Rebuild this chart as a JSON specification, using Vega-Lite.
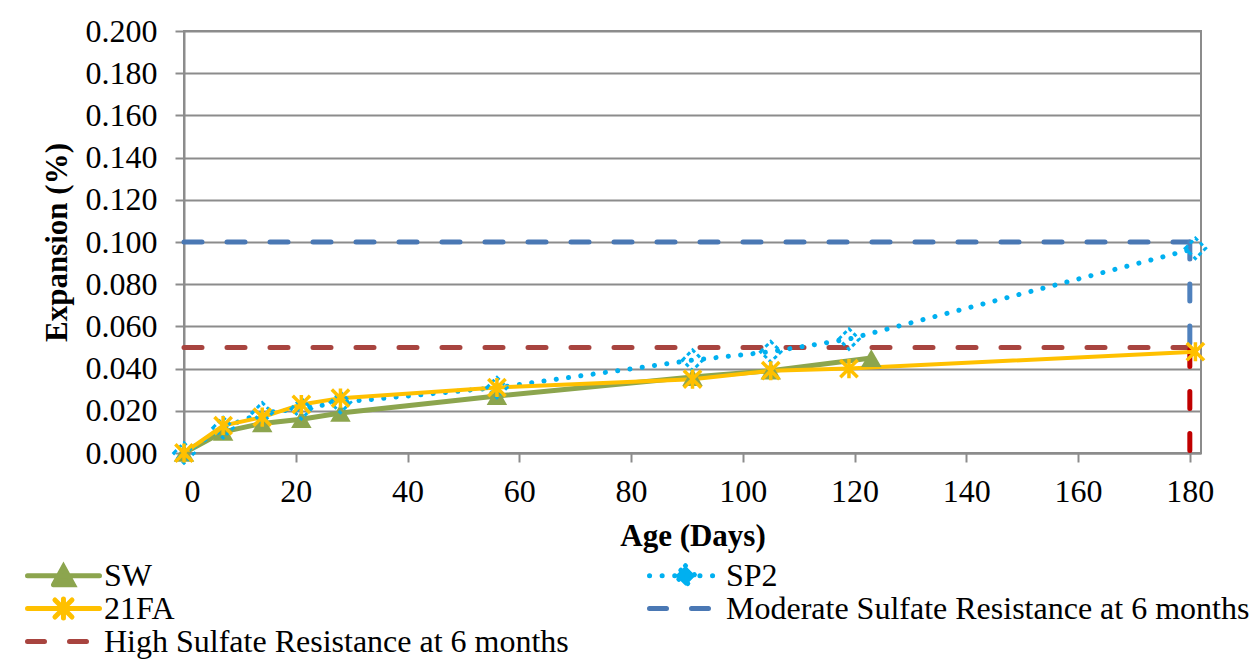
{
  "$schema": "https://vega.github.io/schema/vega-lite/v6.json",
  "width": 1017,
  "height": 422,
  "autosize": {"type": "none"},
  "padding": {"left": 184, "top": 31, "right": 52, "bottom": 209},
  "background": "white",
  "config": {
    "font": "Liberation Serif",
    "view": {"stroke": "#8C8C8C", "strokeWidth": 2},
    "axis": {
      "labelFont": "Liberation Serif",
      "labelFontSize": 32,
      "labelColor": "#000000",
      "titleFont": "Liberation Serif",
      "titleFontSize": 31,
      "titleFontWeight": "bold",
      "titleColor": "#000000",
      "domainColor": "#8C8C8C",
      "domainWidth": 2,
      "tickColor": "#8C8C8C",
      "tickWidth": 2,
      "tickSize": 9,
      "gridColor": "#8C8C8C",
      "gridWidth": 2
    }
  },
  "data": {
    "values": [
      {"s": "SW", "age": 0, "exp": 0.0},
      {"s": "SW", "age": 7, "exp": 0.010},
      {"s": "SW", "age": 14, "exp": 0.014},
      {"s": "SW", "age": 21, "exp": 0.016},
      {"s": "SW", "age": 28, "exp": 0.019},
      {"s": "SW", "age": 56, "exp": 0.027},
      {"s": "SW", "age": 91, "exp": 0.036},
      {"s": "SW", "age": 105, "exp": 0.039},
      {"s": "SW", "age": 123, "exp": 0.045},
      {"s": "21FA", "age": 0, "exp": 0.0},
      {"s": "21FA", "age": 7, "exp": 0.013},
      {"s": "21FA", "age": 14, "exp": 0.017},
      {"s": "21FA", "age": 21, "exp": 0.023},
      {"s": "21FA", "age": 28, "exp": 0.026},
      {"s": "21FA", "age": 56, "exp": 0.031},
      {"s": "21FA", "age": 91, "exp": 0.035},
      {"s": "21FA", "age": 105, "exp": 0.039},
      {"s": "21FA", "age": 119, "exp": 0.040},
      {"s": "21FA", "age": 181, "exp": 0.048},
      {"s": "SP2", "age": 0, "exp": 0.0},
      {"s": "SP2", "age": 7, "exp": 0.012},
      {"s": "SP2", "age": 14, "exp": 0.019},
      {"s": "SP2", "age": 21, "exp": 0.021},
      {"s": "SP2", "age": 28, "exp": 0.024},
      {"s": "SP2", "age": 56, "exp": 0.031},
      {"s": "SP2", "age": 91, "exp": 0.044},
      {"s": "SP2", "age": 105, "exp": 0.048},
      {"s": "SP2", "age": 119, "exp": 0.054},
      {"s": "SP2", "age": 181, "exp": 0.097},
      {"s": "Moderate Sulfate Resistance at 6 months", "age": 0, "exp": 0.1},
      {"s": "Moderate Sulfate Resistance at 6 months", "age": 180, "exp": 0.1},
      {"s": "High Sulfate Resistance at 6 months", "age": 0, "exp": 0.05},
      {"s": "High Sulfate Resistance at 6 months", "age": 180, "exp": 0.05},
      {"s": "ModV", "age": 180, "exp": 0.1},
      {"s": "ModV", "age": 180, "exp": 0.049},
      {"s": "HighV", "age": 180, "exp": 0.049},
      {"s": "HighV", "age": 180, "exp": 0.0}
    ]
  },
  "encoding": {
    "x": {
      "field": "age", "type": "quantitative",
      "scale": {"domain": [0, 182], "nice": false, "zero": false},
      "axis": {"values": [0, 20, 40, 60, 80, 100, 120, 140, 160, 180], "grid": false, "labelPadding": 14, "title": "Age (Days)", "titlePadding": 14}
    },
    "y": {
      "field": "exp", "type": "quantitative",
      "scale": {"domain": [0, 0.2], "nice": false},
      "axis": {"values": [0, 0.02, 0.04, 0.06, 0.08, 0.1, 0.12, 0.14, 0.16, 0.18, 0.2], "format": ".3f", "grid": true, "labelPadding": 18, "title": "Expansion (%)", "titlePadding": 12}
    }
  },
  "layer": [
    {
      "transform": [{"filter": "datum.s === 'High Sulfate Resistance at 6 months' || datum.s === 'Moderate Sulfate Resistance at 6 months'"}],
      "mark": {"type": "line", "strokeWidth": 5, "strokeDash": [18, 25], "strokeCap": "round"},
      "encoding": {
        "color": {
          "field": "s", "type": "nominal",
          "scale": {
            "domain": ["SW", "21FA", "High Sulfate Resistance at 6 months", "SP2", "Moderate Sulfate Resistance at 6 months"],
            "range": ["#8CA54E", "#FFC000", "#A8443F", "#00B0F0", "#4A78B4"]
          },
          "legend": {
            "orient": "none",
            "legendX": -159,
            "legendY": 529,
            "columns": 2,
            "columnPadding": 78,
            "rowPadding": 0,
            "clipHeight": 31,
            "padding": 0,
            "title": null,
            "labelFont": "Liberation Serif",
            "labelFontSize": 32,
            "labelColor": "#000000",
            "labelOffset": 43,
            "labelLimit": 0,
            "symbolSize": 961,
            "symbolStrokeWidth": 5,
            "encode": {
              "symbols": {
                "update": {
                  "shape": {"signal": "datum.value === 'SW' ? 'M-1,0L3.645,0M0.68,0.58L1.32,-0.58L1.96,0.58Z' : datum.value === '21FA' ? 'M-1,0L3.645,0M0.77,-0.55L1.87,0.55M0.77,0.55L1.87,-0.55M1.32,-0.62L1.32,0.62' : datum.value === 'SP2' ? 'M-1,0L3.645,0M1.32,-0.65L1.97,0L1.32,0.65L0.67,0Z' : 'M-1,0L3.645,0'"},
                  "strokeDash": {"signal": "datum.value === 'SP2' ? [0.1, 12.5] : (datum.value === 'SW' || datum.value === '21FA') ? [1000, 0] : [17, 25]"},
                  "fill": {"signal": "datum.value === 'SW' ? '#8CA54E' : datum.value === 'SP2' ? '#00B0F0' : 'transparent'"},
                  "stroke": {"signal": "datum.value === 'SW' ? '#8CA54E' : datum.value === 'SP2' ? '#00B0F0' : datum.value === '21FA' ? '#FFC000' : datum.value === 'High Sulfate Resistance at 6 months' ? '#A8443F' : '#4A78B4'"},
                  "strokeWidth": {"value": 5},
                  "strokeCap": {"value": "round"},
                  "opacity": {"value": 1}
                }
              }
            }
          }
        }
      }
    },
    {
      "transform": [{"filter": "datum.s === 'ModV'"}],
      "mark": {"type": "line", "strokeWidth": 5, "strokeDash": [17, 25], "strokeCap": "round", "color": "#4F81BD"},
      "encoding": {}
    },
    {
      "transform": [{"filter": "datum.s === 'HighV'"}],
      "mark": {"type": "line", "strokeWidth": 5, "strokeDash": [17, 25], "strokeCap": "round", "color": "#C00000"},
      "encoding": {}
    },
    {
      "transform": [{"filter": "datum.s === 'SW'"}],
      "mark": {"type": "line", "strokeWidth": 5},
      "encoding": {"color": {"field": "s", "type": "nominal"}}
    },
    {
      "transform": [{"filter": "datum.s === 'SP2'"}],
      "mark": {"type": "line", "strokeWidth": 5, "strokeDash": [0.1, 12.3], "strokeCap": "round"},
      "encoding": {"color": {"field": "s", "type": "nominal"}}
    },
    {
      "transform": [{"filter": "datum.s === '21FA'"}],
      "mark": {"type": "line", "strokeWidth": 4},
      "encoding": {"color": {"field": "s", "type": "nominal"}}
    },
    {
      "transform": [{"filter": "datum.s === 'SW'"}],
      "mark": {"type": "point", "shape": "triangle-up", "filled": true, "size": 420, "color": "#8CA54E", "opacity": 1},
      "encoding": {}
    },
    {
      "transform": [{"filter": "datum.s === 'SP2'"}],
      "mark": {"type": "point", "shape": "diamond", "filled": false, "size": 420, "color": "#00B0F0", "strokeWidth": 3, "strokeDash": [4, 3], "opacity": 1},
      "encoding": {}
    },
    {
      "transform": [{"filter": "datum.s === '21FA'"}],
      "mark": {"type": "point", "shape": "M-1,-1L1,1M-1,1L1,-1M0,-1.1L0,1.1", "filled": false, "size": 300, "color": "#FFC000", "strokeWidth": 3.5, "opacity": 1},
      "encoding": {}
    }
  ]
}
